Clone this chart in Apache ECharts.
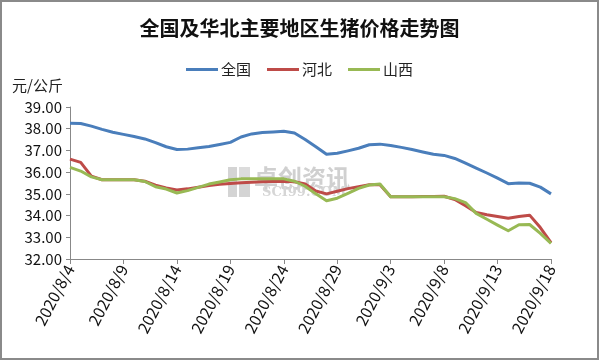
<!DOCTYPE html>
<html><head><meta charset="utf-8">
<script src="https://cdn.jsdelivr.net/npm/echarts@6/dist/echarts.min.js"></script>
<style>html,body{margin:0;padding:0;background:#fff}#c{width:599px;height:360px}</style>
</head><body><div id="c"></div>
<script>
const dates = ['2020/8/4','2020/8/5','2020/8/6','2020/8/7','2020/8/8','2020/8/9','2020/8/10','2020/8/11','2020/8/12','2020/8/13','2020/8/14','2020/8/15','2020/8/16','2020/8/17','2020/8/18','2020/8/19','2020/8/20','2020/8/21','2020/8/22','2020/8/23','2020/8/24','2020/8/25','2020/8/26','2020/8/27','2020/8/28','2020/8/29','2020/8/30','2020/8/31','2020/9/1','2020/9/2','2020/9/3','2020/9/4','2020/9/5','2020/9/6','2020/9/7','2020/9/8','2020/9/9','2020/9/10','2020/9/11','2020/9/12','2020/9/13','2020/9/14','2020/9/15','2020/9/16','2020/9/17','2020/9/18'];
const national = [38.25,38.24,38.12,37.97,37.84,37.74,37.64,37.53,37.36,37.17,37.04,37.06,37.12,37.18,37.27,37.37,37.62,37.76,37.83,37.85,37.88,37.80,37.50,37.17,36.82,36.87,36.98,37.10,37.26,37.29,37.23,37.14,37.04,36.93,36.82,36.77,36.63,36.41,36.19,35.96,35.72,35.47,35.50,35.49,35.31,35.00];
const hebei = [36.60,36.45,35.82,35.65,35.65,35.65,35.65,35.58,35.40,35.27,35.18,35.23,35.30,35.38,35.44,35.48,35.51,35.54,35.56,35.57,35.58,35.56,35.45,35.13,35.00,35.12,35.24,35.33,35.42,35.42,34.87,34.87,34.87,34.88,34.88,34.89,34.74,34.45,34.14,34.04,33.96,33.88,33.96,34.02,33.45,32.75];
const shanxi = [36.22,36.05,35.78,35.65,35.65,35.65,35.65,35.57,35.33,35.22,35.04,35.15,35.30,35.45,35.55,35.65,35.69,35.70,35.70,35.70,35.69,35.58,35.35,35.00,34.68,34.80,35.02,35.25,35.41,35.45,34.87,34.87,34.87,34.87,34.87,34.87,34.78,34.60,34.10,33.83,33.56,33.30,33.58,33.59,33.18,32.72];
const seriesNames = ['全国','河北','山西'];
const colors = ['#4A7EBB','#BE4B48','#98B954'];
const FONT = '"Noto Sans CJK SC", "Noto Sans", sans-serif';

const chart = echarts.init(document.getElementById('c'), null, {renderer:'canvas'});
chart.setOption({
  animation:false,
  backgroundColor:'#fff',
  color: colors,
  textStyle:{fontFamily:FONT},
  title:{
    text:'全国及华北主要地区生猪价格走势图',
    left:'center', top:13,
    textStyle:{fontSize:20,fontWeight:'bold',color:'#111',fontFamily:FONT}
  },
  legend:{
    top:57, left:'center',
    icon:'rect', itemWidth:32, itemHeight:3, itemGap:16,
    textStyle:{fontSize:15,color:'#222',fontFamily:FONT,padding:[0,0,0,-2]},
    data: seriesNames
  },
  grid:{left:70, right:48, top:107, bottom:101},
  xAxis:{
    type:'category', data:dates, boundaryGap:false,
    axisLine:{lineStyle:{color:'#888',width:1}},
    axisTick:{interval:4, length:5, lineStyle:{color:'#888'}},
    axisLabel:{interval:4, rotate:62, fontSize:16, color:'#111', margin:7, fontFamily:FONT}
  },
  yAxis:{
    type:'value', min:32, max:39, interval:1,
    name:'元/公斤', nameLocation:'end', nameGap:14,
    nameTextStyle:{fontSize:15,color:'#222',align:'left',padding:[0,0,0,-58],fontFamily:FONT},
    axisLine:{show:true,lineStyle:{color:'#888'}},
    axisTick:{show:true,length:4,lineStyle:{color:'#888'}},
    splitLine:{show:false},
    axisLabel:{formatter:v=>v.toFixed(2), fontSize:15, color:'#111', margin:8, fontFamily:FONT}
  },
  graphic:[
    {type:'rect', z:-10, shape:{x:1,y:1,width:597,height:358}, style:{fill:'none',stroke:'#8a8a8a',lineWidth:2}},
    {type:'group', z:-5, left:228, top:166, silent:true, children:[
      {type:'rect', shape:{x:0,y:0,width:9,height:30}, style:{fill:'#d4d4d4'}},
      {type:'rect', shape:{x:11,y:0,width:11,height:12}, style:{fill:'#dcdcdc'}},
      {type:'rect', shape:{x:11,y:16,width:11,height:14}, style:{fill:'#d4d4d4'}},
      {type:'text', style:{x:26,y:-1,text:'卓创资讯',fontSize:24,fontWeight:'bold',fill:'#d0d0d0',fontFamily:FONT}},
      {type:'text', style:{x:34,y:19,text:'SCI99.COM',fontSize:13,fontWeight:'bold',fill:'#d6d6d6',fontFamily:'"DejaVu Serif", serif'}}
    ]}
  ],
  series: seriesNames.map((n,i)=>({
    name:n, type:'line', data:[national,hebei,shanxi][i],
    showSymbol:false, symbol:'none',
    lineStyle:{width:3,color:colors[i],join:'round'},
    z: 2+i
  }))
});
</script></body></html>
